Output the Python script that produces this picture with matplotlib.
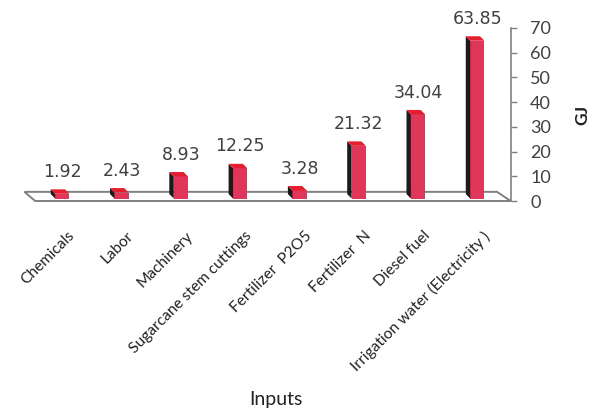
import matplotlib.pyplot as plt
from matplotlib.patches import Polygon
import numpy as np

categories = ['Chemicals', 'Labor', 'Machinery', 'Sugarcane stem cuttings',
              'Fertilizer  P2O5', 'Fertilizer  N', 'Diesel fuel',
              'Irrigation water (Electricity )']
values = [1.92, 2.43, 8.93, 12.25, 3.28, 21.32, 34.04, 63.85]

x = np.arange(len(values))
base = 1.0        # bars stand in the middle of the 3d floor
side_w = 0.075    # dark side face width (x units)
front_w = 0.24
depth_h = 1.8     # top face height (y units)

front_col = '#e0365a'
top_col = '#e61f30'
side_col = '#1b1b1b'
grey = '#808080'
txt = '#404040'

fig = plt.figure(figsize=(5.98, 4.09), dpi=100)
ax = fig.add_axes([30.4 / 598, 1 - 201 / 409, (510.7 - 30.4) / 598, (201 - 28) / 409])
ax.set_xlim(-0.5, 7.6)
ax.set_ylim(0, 70)

# floor
floor = Polygon([(-0.42, 0), (7.6, 0), (7.37, 3.7), (-0.6, 3.7)],
                closed=True, facecolor='white', edgecolor=grey, lw=1.4,
                clip_on=False, zorder=1)
ax.add_patch(floor)

# bars
xf = x - front_w / 2 + side_w / 2
ax.bar(xf, values, width=front_w, bottom=base, align='edge',
       color=front_col, zorder=3)
for xi, v in zip(xf, values):
    top = base + v
    ax.add_patch(Polygon([(xi, base), (xi, top), (xi - side_w, top + depth_h),
                          (xi - side_w, base + depth_h)],
                         closed=True, facecolor=side_col, edgecolor='none',
                         clip_on=False, zorder=3))
    ax.add_patch(Polygon([(xi, top), (xi + front_w, top),
                          (xi + front_w - side_w, top + depth_h),
                          (xi - side_w, top + depth_h)],
                         closed=True, facecolor=top_col, edgecolor='none',
                         clip_on=False, zorder=3))

for xi, v in zip(x, values):
    ax.annotate(f'{v:.2f}', (xi + 0.04, base + v + depth_h), xytext=(0, 6),
                textcoords='offset points', ha='center', va='bottom',
                fontsize=12.5, color=txt, family='DejaVu Sans')

# axes
for s in ['top', 'left', 'bottom']:
    ax.spines[s].set_visible(False)
ax.spines['right'].set_color(grey)
ax.spines['right'].set_linewidth(1.2)
ax.yaxis.tick_right()
ax.yaxis.set_label_position('right')
ax.set_yticks(range(0, 71, 10))
ax.tick_params(axis='y', direction='out', length=4, color=grey, width=1,
               labelsize=13, labelcolor=txt, pad=10)
for lab in ax.get_yticklabels():
    lab.set_family('Lato')
ax.set_ylabel('GJ', fontsize=12.5, family='Lato', color='#222222', labelpad=17,
              fontweight='bold')

ax.set_xticks(x + 0.12)
ax.set_xticklabels(categories, rotation=45, ha='right', va='top',
                   rotation_mode='anchor', fontsize=11.2, family='Lato',
                   color='#222222')
ax.tick_params(axis='x', length=0, pad=20)

fig.text(276 / 598, 1 - 400 / 409, 'Inputs', ha='center', va='center',
         fontsize=14, family='Lato', color='#222222')

fig.savefig('out.png', dpi=100)
